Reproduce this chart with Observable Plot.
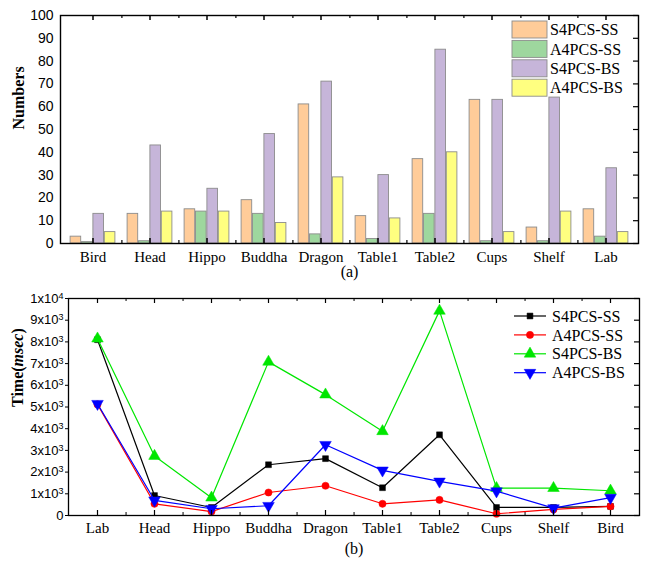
<!DOCTYPE html>
<html><head><meta charset="utf-8">
<script src="https://cdn.jsdelivr.net/npm/d3@7"></script>
<script src="https://cdn.jsdelivr.net/npm/@observablehq/plot@0.6"></script>
<style>body{margin:0;background:#fff;} svg{display:block;}</style>
</head><body><div id="chart"></div>
<script>
// ---------- data (a) ----------
const catsA = ["Bird","Head","Hippo","Buddha","Dragon","Table1","Table2","Cups","Shelf","Lab"];
const seriesNames = ["S4PCS-SS","A4PCS-SS","S4PCS-BS","A4PCS-BS"];
const s4ssA = [3,13,15,19,61,12,37,63,7,15];
const a4ssA = [0.6,1,14,13,4,2,13,1,1,3];
const s4bsA = [13,43,24,48,71,30,85,63,64,33];
const a4bsA = [5,14,14,9,29,11,40,5,14,5];
const yTicksA = [0,10,20,30,40,50,60,70,80,90,100];

// ---------- data (b) ----------
const catsB = ["Lab","Head","Hippo","Buddha","Dragon","Table1","Table2","Cups","Shelf","Bird"];
const s4ssB = [8100,920,370,2340,2620,1280,3720,370,370,420];
const a4ssB = [5120,540,180,1060,1370,540,720,80,280,420];
const s4bsB = [8150,2740,820,7080,5570,3880,9430,1260,1260,1140];
const a4bsB = [5150,700,310,450,3260,2080,1570,1120,340,820];
const yTicksB = [0,1000,2000,3000,4000,5000,6000,7000,8000,9000,10000];

const barColors = ["#FFCC99","#9ED79E","#C6B5D9","#FFFF80"];
const lineColors = ["#000000","#FF0000","#00E600","#0000FF"];

const serif = "'Liberation Serif','Times New Roman',serif";
const sans = "'Liberation Sans',Arial,sans-serif";

const triDown = {draw(ctx, size) {
  const y = -Math.sqrt(size / (Math.sqrt(3) * 3));
  ctx.moveTo(0, -y * 2);
  ctx.lineTo(-Math.sqrt(3) * y, y);
  ctx.lineTo(Math.sqrt(3) * y, y);
  ctx.closePath();
}};
const symbols = ["square","circle","triangle",triDown];
const d3symbols = [d3.symbolSquare, d3.symbolCircle, d3.symbolTriangle, triDown];
const radii = [3.3,3.6,4.3,4.3];

const chart = document.getElementById("chart");

// ---------- panel (a) ----------
const WA = 649, HA = 280, mA = {top:15, right:11, bottom:37, left:60};
const fwA = WA - mA.left - mA.right, fhA = HA - mA.top - mA.bottom;
const stepA = fwA / catsA.length;
const barW = 11.4, padA = (stepA - 4 * barW) / 2;
const seriesA = [s4ssA, a4ssA, s4bsA, a4bsA];

const svgA = Plot.plot({
  width: WA, height: HA,
  marginTop: mA.top, marginRight: mA.right, marginBottom: mA.bottom, marginLeft: mA.left,
  style: {background: "#fff", color: "#000", overflow: "visible"},
  x: {type: "band", domain: catsA, padding: 0},
  y: {domain: [0, 100]},
  marks: [
    ...seriesA.map((vals, k) => Plot.barY(
      catsA.map((c, i) => ({cat: c, v: vals[i]})),
      {x: "cat", y: "v", fill: barColors[k], stroke: "#8c8c8c", strokeWidth: 0.9,
       insetLeft: padA + k * barW, insetRight: stepA - padA - (k + 1) * barW})),
    Plot.tickX(catsA, {x: d => d, insetTop: fhA - 5, stroke: "#000", strokeWidth: 1.5}),
    Plot.tickX(catsA, {x: d => d, insetBottom: fhA - 5, stroke: "#000", strokeWidth: 1.5}),
    Plot.tickX(catsA.slice(0, -1), {x: d => d, dx: stepA / 2, insetTop: fhA - 3, stroke: "#000", strokeWidth: 1.2}),
    Plot.tickX(catsA.slice(0, -1), {x: d => d, dx: stepA / 2, insetBottom: fhA - 3, stroke: "#000", strokeWidth: 1.2}),
    Plot.tickY(yTicksA, {y: d => d, insetLeft: fwA - 5, stroke: "#000", strokeWidth: 1.2}),
    Plot.frame({stroke: "#000", strokeWidth: 1.4}),
    Plot.axisY({ticks: yTicksA, tickSize: 0, tickPadding: 7, label: null, fontFamily: sans, fontSize: 14}),
    Plot.axisX({tickSize: 0, tickPadding: 8, label: null, fontFamily: serif, fontSize: 15}),
    Plot.text(["Numbers"], {text: d => d, frameAnchor: "left", dx: -42, rotate: -90, fontFamily: serif, fontWeight: "bold", fontSize: 16}),
    Plot.text(["(a)"], {text: d => d, frameAnchor: "bottom", lineAnchor: "middle", dy: 28, fontFamily: serif, fontSize: 16})
  ]
});
chart.appendChild(svgA);

// legend (a)
{
  const g = d3.select(svgA).append("g");
  seriesNames.forEach((n, k) => {
    g.append("rect").attr("x", 512).attr("y", 21 + k * 19.4).attr("width", 35).attr("height", 17)
      .attr("fill", barColors[k]).attr("stroke", "#8c8c8c").attr("stroke-width", 0.9);
    g.append("text").attr("x", 550).attr("y", 29.5 + k * 19.4).attr("dy", "0.35em")
      .style("font-family", serif).style("font-size", "16px").style("text-anchor", "start")
      .attr("fill", "#000").text(n);
  });
}

// ---------- panel (b) ----------
const WB = 649, HB = 281, mB = {top:18, right:10, bottom:46, left:68};
const fwB = WB - mB.left - mB.right, fhB = HB - mB.top - mB.bottom;
const stepB = fwB / catsB.length;
const seriesB = [s4ssB, a4ssB, s4bsB, a4bsB];

const fmtB = d => d === 0 ? "0" : (d >= 10000 ? `${d / 10000}x10^4` : `${d / 1000}x10^3`);

const svgB = Plot.plot({
  width: WB, height: HB,
  marginTop: mB.top, marginRight: mB.right, marginBottom: mB.bottom, marginLeft: mB.left,
  style: {background: "#fff", color: "#000", overflow: "visible"},
  x: {type: "point", domain: catsB, padding: 0.5},
  y: {domain: [0, 10000]},
  marks: [
    ...seriesB.flatMap((vals, k) => {
      const data = catsB.map((c, i) => ({cat: c, v: vals[i]}));
      return [
        Plot.line(data, {x: "cat", y: "v", stroke: lineColors[k], strokeWidth: 1.2}),
        Plot.dot(data, {x: "cat", y: "v", symbol: symbols[k], r: radii[k], fill: lineColors[k], stroke: lineColors[k], strokeWidth: 0.5})
      ];
    }),
    Plot.tickX(catsB, {x: d => d, insetTop: fhB - 5, stroke: "#000", strokeWidth: 1.2}),
    Plot.tickX(catsB, {x: d => d, insetBottom: fhB - 5, stroke: "#000", strokeWidth: 1.2}),
    Plot.tickX(catsB.slice(0, -1), {x: d => d, dx: stepB / 2, insetTop: fhB - 3, stroke: "#000", strokeWidth: 1}),
    Plot.tickX(catsB.slice(0, -1), {x: d => d, dx: stepB / 2, insetBottom: fhB - 3, stroke: "#000", strokeWidth: 1}),
    Plot.tickY(yTicksB, {y: d => d, insetLeft: fwB - 5, stroke: "#000", strokeWidth: 1.2}),
    Plot.frame({stroke: "#000", strokeWidth: 1.3}),
    Plot.axisY({ticks: yTicksB, tickSize: 3, tickPadding: 2, tickFormat: fmtB, label: null, fontFamily: sans, fontSize: 13}),
    Plot.axisX({tickSize: 0, tickPadding: 7, label: null, fontFamily: serif, fontSize: 15}),
    Plot.text(["Time(msec)"], {text: d => d, frameAnchor: "left", dx: -51, rotate: -90, fontFamily: serif, fontWeight: "bold", fontSize: 16}),
    Plot.text(["(b)"], {text: d => d, frameAnchor: "bottom", lineAnchor: "middle", dy: 33, fontFamily: serif, fontSize: 16})
  ]
});
chart.appendChild(svgB);

// superscripts and italic label
d3.select(svgB).selectAll("text").each(function() {
  const t = this.textContent;
  if (t.includes("^")) {
    const [base, exp] = t.split("^");
    const sel = d3.select(this);
    sel.text(null);
    sel.append("tspan").text(base);
    sel.append("tspan").attr("dy", "-0.45em").attr("font-size", 9).text(exp);
  } else if (t === "Time(msec)") {
    const sel = d3.select(this);
    sel.text(null);
    sel.append("tspan").text("Time(");
    sel.append("tspan").attr("font-style", "italic").text("msec");
    sel.append("tspan").text(")");
  }
});

// legend (b)
{
  const g = d3.select(svgB).append("g");
  seriesNames.forEach((n, k) => {
    const y = 36 + k * 18.9;
    g.append("line").attr("x1", 514).attr("x2", 546).attr("y1", y).attr("y2", y)
      .attr("stroke", lineColors[k]).attr("stroke-width", 1.2);
    g.append("path").attr("transform", `translate(530,${y})`)
      .attr("d", d3.symbol(d3symbols[k], radii[k] * radii[k] * Math.PI)())
      .attr("fill", lineColors[k]).attr("stroke", lineColors[k]).attr("stroke-width", 0.5);
    g.append("text").attr("x", 552).attr("y", y).attr("dy", "0.35em")
      .style("font-family", serif).style("font-size", "16px").style("text-anchor", "start")
      .attr("fill", "#000").text(n);
  });
}
</script></body></html>
